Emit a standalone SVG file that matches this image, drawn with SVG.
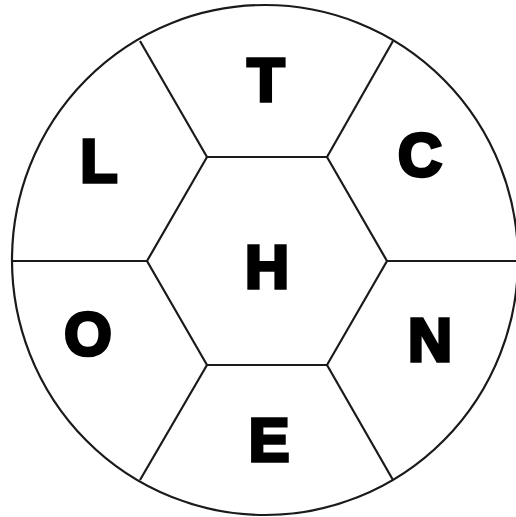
<svg xmlns="http://www.w3.org/2000/svg" width="516" height="517" viewBox="0 0 516 517">
<style>
.ln{fill:none;stroke:#1a1a1a;stroke-width:2.2}
.lt{font-family:"Liberation Sans",Arial,sans-serif;font-weight:bold;font-size:61px;fill:#000;stroke:#000;stroke-width:3.5;stroke-linejoin:miter;text-anchor:middle}
</style>
<rect width="516" height="517" fill="#fff"/>
<g id="connectors">
<ellipse class="ln" cx="265" cy="260" rx="253" ry="255"/>
<polygon class="ln" points="207,157 327,157 387,261 327,365 207,365 147,261"/>
<line class="ln" x1="207" y1="157" x2="140" y2="41"/>
<line class="ln" x1="327" y1="157" x2="393" y2="41"/>
<line class="ln" x1="387" y1="261" x2="516" y2="261"/>
<line class="ln" x1="327" y1="365" x2="393" y2="480"/>
<line class="ln" x1="207" y1="365" x2="140" y2="480"/>
<line class="ln" x1="147" y1="261" x2="12" y2="261"/>
</g>
<g id="node-T"><text class="lt" x="266" y="101">T</text></g>
<g id="node-C"><text class="lt" x="420" y="176">C</text></g>
<g id="node-L"><text class="lt" x="99" y="182">L</text></g>
<g id="node-H"><text class="lt" x="267" y="288">H</text></g>
<g id="node-O"><text class="lt" x="88" y="355">O</text></g>
<g id="node-N"><text class="lt" x="430" y="361">N</text></g>
<g id="node-E"><text class="lt" x="269" y="461">E</text></g>
</svg>
